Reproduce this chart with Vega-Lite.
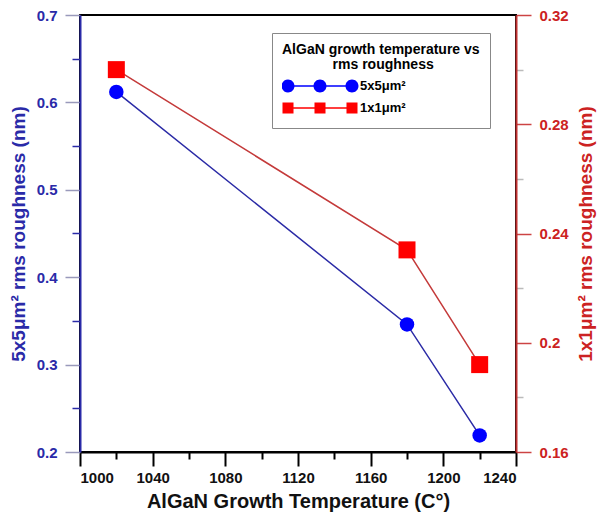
{
  "$schema": "https://vega.github.io/schema/vega-lite/v6.json",
  "autosize": "none",
  "width": 436,
  "height": 437,
  "padding": {"left": 80, "top": 15, "right": 83, "bottom": 69},
  "background": "white",
  "config": {
    "font": "Liberation Sans",
    "view": {"stroke": "black", "strokeWidth": 2},
    "axis": {"grid": false, "labelFont": "Liberation Sans", "titleFont": "Liberation Sans", "labelFontWeight": "bold", "titleFontWeight": "bold", "labelFontSize": 15, "titleFontSize": 19, "domainWidth": 2}
  },
  "data": {
    "values": [
      {"temp": 1020, "series": "5x5μm²", "value": 0.612},
      {"temp": 1180, "series": "5x5μm²", "value": 0.346},
      {"temp": 1220, "series": "5x5μm²", "value": 0.219},
      {"temp": 1020, "series": "1x1μm²", "value": 0.300},
      {"temp": 1180, "series": "1x1μm²", "value": 0.234},
      {"temp": 1220, "series": "1x1μm²", "value": 0.192}
    ]
  },
  "encoding": {
    "x": {
      "field": "temp", "type": "quantitative",
      "scale": {"domain": [1000, 1240], "nice": false, "zero": false},
      "axis": {
        "title": "AlGaN Growth Temperature (C°)",
        "titleFontSize": 20,
        "titleColor": "#111",
        "labelColor": "#111",
        "domainColor": "black",
        "tickColor": "black",
        "tickWidth": 2,
        "values": [1000, 1020, 1040, 1060, 1080, 1100, 1120, 1140, 1160, 1180, 1200, 1220, 1240],
        "tickSize": {"condition": {"test": "datum.value % 40 == 0", "value": 14}, "value": 7},
        "labelExpr": "datum.value % 40 == 0 ? format(datum.value, 'd') : ''",
        "labelPadding": 4,
        "titlePadding": 6
      }
    }
  },
  "layer": [
    {
      "transform": [{"filter": "datum.series == '5x5μm²'"}],
      "encoding": {
        "y": {
          "field": "value", "type": "quantitative",
          "scale": {"domain": [0.2, 0.7], "nice": false, "zero": false},
          "axis": {
            "orient": "left",
            "title": "5x5μm² rms roughness (nm)",
            "titleColor": "#2a2aa8",
            "labelColor": "#2a2aa8",
            "domainColor": "#2a2aa8",
            "values": [0.2, 0.25, 0.3, 0.35, 0.4, 0.45, 0.5, 0.55, 0.6, 0.65, 0.7],
            "tickSize": {"condition": {"test": "abs(datum.value*10 - round(datum.value*10)) < 0.01", "value": 15}, "value": 8},
            "tickColor": {"condition": {"test": "abs(datum.value*10 - round(datum.value*10)) < 0.01", "value": "#9999bb"}, "value": "#2a2aa8"},
            "tickWidth": 1.5,
            "labelExpr": "abs(datum.value*10 - round(datum.value*10)) < 0.01 ? format(datum.value, '.1f') : ''",
            "labelPadding": 8,
            "titlePadding": 8
          }
        }
      },
      "layer": [
        {"mark": {"type": "line", "color": "#2b2ba6", "strokeWidth": 1.5}, "encoding": {}},
        {
          "mark": {"type": "point", "shape": "circle", "filled": true, "opacity": 1, "size": 210},
          "encoding": {
            "color": {
              "field": "series", "type": "nominal",
              "scale": {"domain": ["5x5μm²", "1x1μm²"], "range": ["#0000ff", "#ff0000"]},
              "legend": {
                "orient": "none",
                "legendX": 192,
                "legendY": 18,
                "title": ["AlGaN growth temperature vs", "\u200b\u00a0\u00a0\u00a0\u00a0\u00a0\u00a0\u00a0\u00a0\u00a0\u00a0\u00a0\u00a0\u00a0rms roughness"],
                "titleFontSize": 14,
                "titleFontWeight": "bold",
                "titleColor": "black",
                "titleLimit": 500,
                "titleAnchor": "start",
                "titleAlign": "left",
                "titleLineHeight": 15,
                "titlePadding": 4,
                "labelFontSize": 13,
                "labelFontWeight": "bold",
                "labelColor": "black",
                "labelOffset": 2,
                "padding": 10,
                "rowPadding": 2,
                "clipHeight": 20,
                "strokeColor": "#888888",
                "fillColor": "white",
                "symbolSize": 5776,
                "symbolStrokeWidth": 0,
                "symbolOpacity": 1,
                "encode": {
                  "symbols": {
                    "update": {
                      "shape": {"signal": "datum.value == '5x5μm²' ? 'M-1.013,0A0.171,0.171,0,1,1,-0.671,0A0.171,0.171,0,1,1,-1.013,0ZM-0.171,0A0.171,0.171,0,1,1,0.171,0A0.171,0.171,0,1,1,-0.171,0ZM0.671,0A0.171,0.171,0,1,1,1.013,0A0.171,0.171,0,1,1,0.671,0ZM-0.68,-0.02H-0.16V0.02H-0.68ZM0.16,-0.02H0.68V0.02H0.16Z' : 'M-0.987,-0.145H-0.697V0.145H-0.987ZM-0.145,-0.145H0.145V0.145H-0.145ZM0.697,-0.145H0.987V0.145H0.697ZM-0.697,-0.02H-0.145V0.02H-0.697ZM0.145,-0.02H0.697V0.02H0.145Z'"}
                    }
                  }
                }
              }
            }
          }
        }
      ]
    },
    {
      "transform": [{"filter": "datum.series == '1x1μm²'"}],
      "encoding": {
        "y": {
          "field": "value", "type": "quantitative",
          "scale": {"domain": [0.16, 0.32], "nice": false, "zero": false},
          "axis": {
            "orient": "right",
            "title": "1x1μm² rms roughness (nm)",
            "titleAngle": 270,
            "titleBaseline": "top",
            "titleColor": "#cc2222",
            "labelColor": "#cc2222",
            "domainColor": "#c03030",
            "values": [0.16, 0.18, 0.2, 0.22, 0.24, 0.26, 0.28, 0.3, 0.32],
            "tickSize": {"condition": {"test": "abs(datum.value/0.04 - round(datum.value/0.04)) < 0.01", "value": 15}, "value": 7},
            "tickColor": {"condition": {"test": "abs(datum.value/0.04 - round(datum.value/0.04)) < 0.01", "value": "#cc4444"}, "value": "#bbbbbb"},
            "tickWidth": 1.5,
            "labelExpr": "abs(datum.value/0.04 - round(datum.value/0.04)) < 0.01 ? format(datum.value, '~g') : ''",
            "labelPadding": 8,
            "titlePadding": 8
          }
        }
      },
      "layer": [
        {"mark": {"type": "line", "color": "#c43a3a", "strokeWidth": 1.5}, "encoding": {}},
        {
          "mark": {"type": "point", "shape": "square", "filled": true, "opacity": 1, "size": 289},
          "encoding": {
            "color": {
              "field": "series", "type": "nominal",
              "scale": {"domain": ["5x5μm²", "1x1μm²"], "range": ["#0000ff", "#ff0000"]}
            }
          }
        }
      ]
    }
  ],
  "resolve": {"scale": {"y": "independent"}}
}
